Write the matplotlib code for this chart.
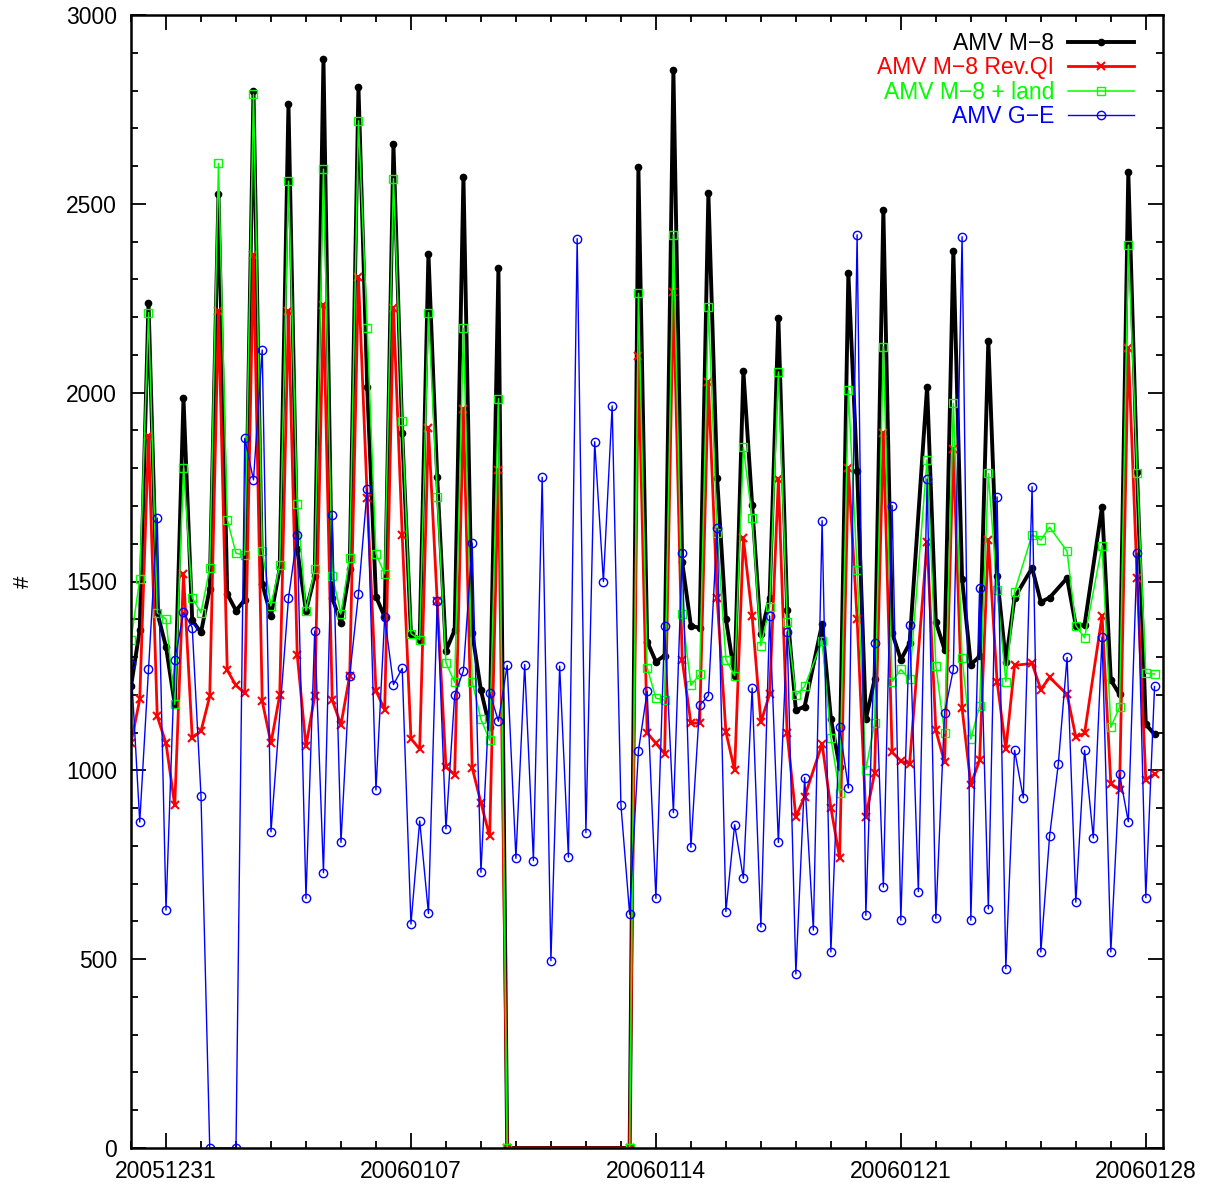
import numpy as np
import matplotlib
matplotlib.use('Agg')
import matplotlib.pyplot as plt
from matplotlib.ticker import MultipleLocator, FixedLocator

# 6-hourly AMV counts, first value is 20051230 00Z, None = no data
amv_m8 = ([1222, 1372, 2238, 1418, 1327, 1175, 1985, 1397, 1365, 1481,
           2525, 1467, 1423, 1451, 2800, 1494, 1409, 1535, 2765, 1585,
           1422, 1515, 2883, 1457, 1390, 1532, 2810, 2014, 1460, 1406,
           2658, 1894, 1362, 1346, 2368, 1776, 1316, 1372, 2572, 1364,
           1212, 1114, 2329, 0] + [None] * 13 +
          [0, 2597, 1341,
           1288, 1304, 2854, 1552, 1383, 1377, 2528, 1773, 1401, 1251,
           2057, 1703, 1360, 1457, 2199, 1425, 1159, 1169, None, 1388,
           1137, 1009, 2317, 1793, 1135, 1241, 2484, 1364, 1293, 1336,
           None, 2016, 1393, 1319, 2376, 1506, 1280, 1302, 2138, 1515,
           1288, 1457, None, 1536, 1446, 1457, None, 1509, 1383, 1385,
           None, 1698, 1239, 1201, 2584, 1790, 1122, 1095])

amv_m8_revqi = ([1072, 1188, 1884, 1143, 1072, 907, 1520, 1086, 1104, 1196,
                 2216, 1265, 1225, 1204, 2364, 1183, 1072, 1199, 2215, 1306,
                 1064, 1196, 2232, 1186, 1121, 1251, 2305, 1722, 1211, 1160,
                 2225, 1624, 1084, 1056, 1906, 1448, 1009, 988, 1957, 1007,
                 914, 825, 1796, 0] + [None] * 13 +
                [0, 2098, 1099,
                 1072, 1044, 2266, 1293, 1125, 1125, 2028, 1455, 1102, 1000,
                 1614, 1409, 1127, 1202, 1771, 1098, 877, 930, None, 1070,
                 901, 768, 1801, 1402, 877, 993, 1894, 1048, 1025, 1017,
                 None, 1605, 1106, 1021, 1850, 1164, 962, 1027, 1610, 1235,
                 1056, 1278, None, 1283, 1214, 1246, None, 1201, 1088, 1098,
                 None, 1409, 965, 948, 2117, 1509, 975, 990])

amv_m8_land = ([1346, 1506, 2212, 1417, 1401, 1175, 1800, 1457, 1417, 1536,
                2607, 1664, 1575, 1570, 2790, 1582, 1436, 1544, 2560, 1705,
                1422, 1533, 2592, 1515, 1415, 1563, 2720, 2171, 1573, 1520,
                2567, 1925, 1362, 1346, 2212, 1724, 1285, 1233, 2171, 1235,
                1135, 1080, 1984, 0] + [None] * 13 +
               [0, 2263, 1272,
                1191, 1186, 2418, 1415, 1225, 1254, 2228, 1629, 1293, 1251,
                1855, 1668, 1330, 1432, 2055, 1394, 1199, 1222, None, 1343,
                1086, 940, 2006, 1531, 1002, 1125, 2122, 1235, 1267, 1241,
                None, 1823, 1277, 1098, 1972, 1297, 1083, 1170, 1786, 1478,
                1235, 1473, None, 1624, 1610, 1644, None, 1580, 1383, 1351,
                None, 1595, 1114, 1167, 2391, 1788, 1257, 1255])

amv_ge = [1281, 863, 1267, 1668, 630, 1291, 1418, 1378, 933, 0,
          None, None, 0, 1879, 1769, 2113, 837, None, 1455, 1624,
          661, 1369, 729, 1675, 809, 1251, 1467, 1745, 948, 1406,
          1227, 1270, 593, 866, 621, 1448, 845, 1199, 1264, 1602,
          730, 1206, 1130, 1278, 767, 1280, 761, 1776, 496, 1276,
          770, 2408, 835, 1870, 1500, 1965, 909, 619, 1051, 1209,
          661, 1383, 888, 1575, 796, 1172, 1198, 1641, 626, 856,
          714, 1218, 585, 1409, 809, 1367, 461, 981, 577, 1661,
          519, 1114, 953, 2418, 616, 1336, 691, 1701, 603, 1385,
          679, 1771, 608, 1153, 1267, 2413, 603, 1483, 633, 1724,
          475, 1053, 927, 1751, 519, 825, 1017, 1299, 651, 1053,
          821, 1353, 519, 990, 864, 1575, 663, 1222]

date_ticks = [1, 8, 15, 22, 29]   # days after 20051230
date_labels = ['20051231', '20060107', '20060114', '20060121', '20060128']

plt.rcParams['font.family'] = ['Liberation Sans', 'DejaVu Sans']

fig = plt.figure(figsize=(12.08, 11.84), dpi=100)
ax = fig.add_axes([131 / 1208, 1 - 1148 / 1184, 1032.3 / 1208, 1133 / 1184])

t = np.arange(len(amv_ge)) * 0.25


def series(vals):
    # drop missing slots so the line joins across them (like gnuplot)
    v = np.array([np.nan if x is None else x for x in vals], dtype=float)
    ok = ~np.isnan(v)
    return t[ok], v[ok]


x, y = series(amv_m8)
ax.plot(x, y, color='black', lw=2.8, marker='o', ms=4.5, label='AMV M\u22128')
x, y = series(amv_m8_revqi)
ax.plot(x, y, color='#ff0000', lw=2.0, marker='x', ms=6, mew=1.5,
        label='AMV M\u22128 Rev.QI')
x, y = series(amv_m8_land)
ax.plot(x, y, color='#00ff00', lw=1.1, marker='s', ms=6, mfc='none', mew=1.0,
        label='AMV M\u22128 + land')
x, y = series(amv_ge)
ax.plot(x, y, color='#0000ff', lw=1.0, marker='o', ms=6, mfc='none', mew=1.0,
        label='AMV G\u2212E')

ax.set_xlim(0, 29.5)
ax.set_ylim(0, 3000)
ax.xaxis.set_major_locator(FixedLocator(date_ticks))
ax.set_xticklabels(date_labels)
ax.xaxis.set_minor_locator(MultipleLocator(1))
ax.yaxis.set_major_locator(MultipleLocator(500))
ax.yaxis.set_minor_locator(MultipleLocator(100))

ax.tick_params(which='both', direction='in', top=True, right=True,
               labelsize=16.5, width=1.3)
ax.tick_params(which='major', length=11)
ax.tick_params(which='minor', length=5)
ax.tick_params(axis='y', pad=10)
ax.tick_params(axis='x', pad=9)
for s in ax.spines.values():
    s.set_linewidth(1.8)

ax.set_ylabel('#', fontsize=16)
ax.yaxis.set_label_coords(-0.094, 0.5)

leg = ax.legend(loc='upper right', bbox_to_anchor=(1 - 6 / 1032, 1 + 6 / 1133),
                frameon=False, markerfirst=False,
                fontsize=16.5, handlelength=2.9, numpoints=1,
                labelspacing=0.065, borderaxespad=0.6, handletextpad=0.6,
                labelcolor='linecolor')

fig.savefig('out.png', dpi=100)
